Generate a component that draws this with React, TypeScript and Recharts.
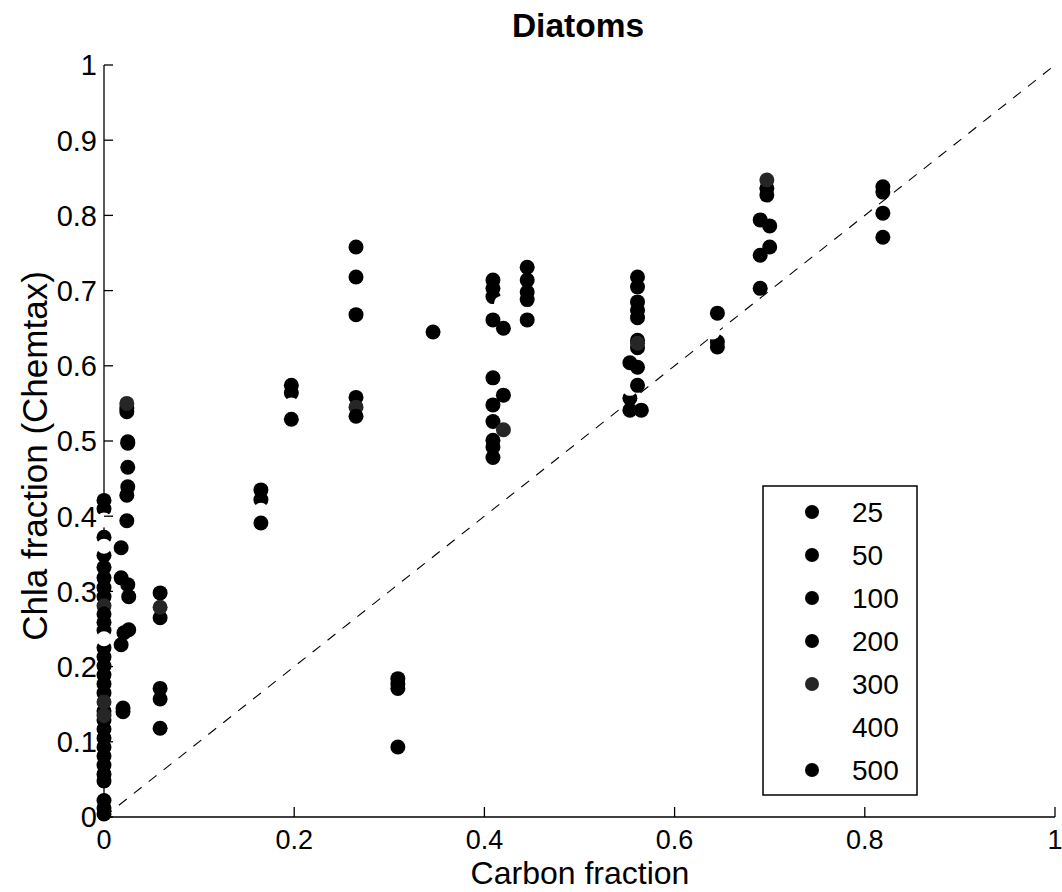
import React from 'react';
import { ScatterChart, Scatter, XAxis, YAxis, ReferenceLine, Customized } from 'recharts';

const FONT = '"Liberation Sans", Arial, Helvetica, sans-serif';

const depthLabels = ['25', '50', '100', '200', '300', '400', '500'];
const depthColors = ['#000', '#000', '#000', '#000', '#262626', '#fff', '#000'];

const xTicks = [0, 0.2, 0.4, 0.6, 0.8, 1];
const yTicks = [0, 0.1, 0.2, 0.3, 0.4, 0.5, 0.6, 0.7, 0.8, 0.9, 1];

// [carbon fraction, chla fraction] per depth
const d25 = [
  [0, 0.421], [0, 0.332], [0, 0.259], [0, 0.201], [0, 0.141], [0, 0.081], [0, 0.004],
  [0.024, 0.544], [0.025, 0.465], [0.018, 0.358], [0.026, 0.249],
  [0.059, 0.298], [0.059, 0.171], [0.165, 0.435], [0.197, 0.574], [0.265, 0.758],
  [0.309, 0.184], [0.409, 0.714], [0.409, 0.584], [0.409, 0.501], [0.445, 0.731],
  [0.561, 0.718], [0.561, 0.664], [0.553, 0.604], [0.645, 0.67], [0.697, 0.836], [0.819, 0.838],
];
const d50 = [
  [0, 0.41], [0, 0.318], [0, 0.248], [0, 0.189], [0, 0.129], [0, 0.069],
  [0.024, 0.539], [0.025, 0.439], [0.018, 0.318], [0.021, 0.245],
  [0.059, 0.265], [0.165, 0.422], [0.197, 0.564], [0.265, 0.718], [0.309, 0.177],
  [0.409, 0.703], [0.42, 0.561], [0.409, 0.492], [0.445, 0.714],
  [0.561, 0.705], [0.561, 0.634], [0.645, 0.632], [0.69, 0.794], [0.819, 0.831],
];
const d100 = [
  [0, 0.372], [0, 0.305], [0, 0.225], [0, 0.177], [0, 0.117], [0, 0.057],
  [0.025, 0.499], [0.024, 0.428], [0.025, 0.309], [0.018, 0.229],
  [0.059, 0.157], [0.265, 0.668], [0.309, 0.171],
  [0.409, 0.692], [0.409, 0.548], [0.409, 0.478], [0.445, 0.698],
  [0.561, 0.685], [0.561, 0.624], [0.553, 0.557], [0.645, 0.625], [0.7, 0.786], [0.819, 0.803],
];
const d200 = [
  [0, 0.348], [0, 0.293], [0, 0.213], [0, 0.165], [0, 0.105], [0, 0.048], [0, 0.022],
  [0.025, 0.497], [0.024, 0.394], [0.026, 0.293], [0.02, 0.145],
  [0.059, 0.118], [0.265, 0.558], [0.309, 0.093],
  [0.409, 0.661], [0.42, 0.65], [0.409, 0.526], [0.445, 0.688],
  [0.561, 0.674], [0.561, 0.598], [0.553, 0.541], [0.697, 0.827], [0.7, 0.758], [0.819, 0.771],
];
const d300 = [
  [0, 0.281], [0, 0.153], [0, 0.135], [0.024, 0.55], [0.059, 0.279],
  [0.265, 0.545], [0.42, 0.515], [0.561, 0.63], [0.697, 0.847],
];
const d400 = [
  [0, 0.395], [0, 0.36], [0, 0.237], [0.165, 0.408], [0.197, 0.548],
  [0.346, 0.657], [0.418, 0.683], [0.553, 0.57], [0.64, 0.645], [0.69, 0.723],
];
const d500 = [
  [0, 0.27], [0, 0.093], [0, 0.012], [0.02, 0.14], [0.165, 0.391], [0.197, 0.529],
  [0.265, 0.533], [0.346, 0.645], [0.445, 0.661], [0.561, 0.574], [0.565, 0.541],
  [0.69, 0.747], [0.69, 0.703],
];

const depthData = [d25, d50, d100, d200, d300, d400, d500];

const fmt = (v: number) => String(Math.round(v * 10) / 10);

const YTick = ({ x, y, payload }: any) => (
  <g>
    <line x1={x} x2={x + 9} y1={y} y2={y} stroke="#000" strokeWidth={1.3} />
    <text x={x - 7} y={y} dy="0.36em" textAnchor="end" fontSize={29} fontFamily={FONT} fill="#000">
      {fmt(payload.value)}
    </text>
  </g>
);

const XTick = ({ x, y, payload }: any) => (
  <g>
    <line x1={x} x2={x} y1={y} y2={y - 10} stroke="#000" strokeWidth={1.3} />
    <text x={x} y={y + 32} textAnchor="middle" fontSize={27} fontFamily={FONT} fill="#000">
      {fmt(payload.value)}
    </text>
  </g>
);

const dot = (color: string) => (props: any) => (
  <circle cx={props.cx} cy={props.cy} r={7.5} fill={color} />
);

// legend box drawn in svg so it doesn't shrink the plot area
const LegendBox = () => (
  <g fontFamily={FONT} fontSize={28} fill="#000">
    <rect x={763} y={486} width={154} height={309} fill="#fff" stroke="#000" strokeWidth={1.5} />
    {depthLabels.map((d, i) => (
      <g key={d}>
        <circle cx={812} cy={512 + i * 43} r={7} fill={depthColors[i]} />
        <text x={852} y={512 + i * 43} dy="0.36em">
          {d}
        </text>
      </g>
    ))}
  </g>
);

const Labels = () => (
  <g fontFamily={FONT} fill="#000">
    <text x={578} y={37} textAnchor="middle" fontSize={33.5} fontWeight="bold">
      Diatoms
    </text>
    <text x={580} y={884} textAnchor="middle" fontSize={32}>
      Carbon fraction
    </text>
    <text x={47} y={456} textAnchor="middle" fontSize={35} transform="rotate(-90 47 456)">
      Chla fraction (Chemtax)
    </text>
  </g>
);

export default function App() {
  return (
    <div style={{ position: 'absolute', left: 0, top: 0, background: '#fff' }}>
      <ScatterChart width={1062} height={892} margin={{ top: 65, right: 7, bottom: 15, left: 44 }}>
        <XAxis
          type="number"
          dataKey="x"
          domain={[0, 1]}
          ticks={xTicks}
          height={60}
          axisLine={{ stroke: '#000', strokeWidth: 1.3 }}
          tickLine={false}
          tickSize={0}
          tickMargin={0}
          tick={<XTick />}
          interval={0}
        />
        <YAxis
          type="number"
          dataKey="y"
          domain={[0, 1]}
          ticks={yTicks}
          width={60}
          axisLine={{ stroke: '#000', strokeWidth: 1.3 }}
          tickLine={false}
          tickSize={0}
          tickMargin={0}
          tick={<YTick />}
          interval={0}
        />
        <ReferenceLine
          segment={[{ x: 0, y: 0 }, { x: 1, y: 1 }]}
          stroke="#000"
          strokeWidth={1.1}
          strokeDasharray="10 9"
          ifOverflow="visible"
        />
        {depthData.map((pts, i) => (
          <Scatter
            key={depthLabels[i]}
            name={depthLabels[i]}
            data={pts.map(([x, y]) => ({ x, y }))}
            fill={depthColors[i]}
            shape={dot(depthColors[i])}
            isAnimationActive={false}
          />
        ))}
        <Customized component={<LegendBox />} />
        <Customized component={<Labels />} />
      </ScatterChart>
    </div>
  );
}
